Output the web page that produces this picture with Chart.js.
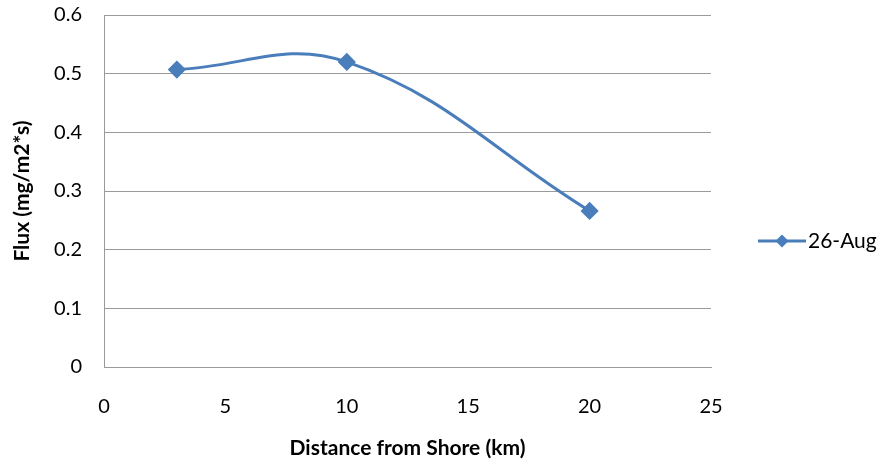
<!DOCTYPE html>
<html><head><meta charset="utf-8">
<script src="https://cdn.jsdelivr.net/npm/chart.js@4/dist/chart.umd.min.js"></script>
<style>html,body{margin:0;padding:0;background:#fff}#wrap{width:884px;height:464px}</style>
</head><body><div id="wrap"><canvas id="c" width="884" height="464"></canvas></div>
<script>
const seriesName = '26-Aug';
const distanceKm = [3, 10, 20];
const fluxValues = [0.507, 0.52, 0.266];
const xTickValues = [0, 5, 10, 15, 20, 25];
const yTickValues = [0, 0.1, 0.2, 0.3, 0.4, 0.5, 0.6];
const xTitle = 'Distance from Shore (km)';
const yTitle = 'Flux (mg/m2*s)';

const BLUE = '#4A7EBB';
const FONT = 'Lato, "Liberation Sans", sans-serif';

const legendPlugin = {
  id: 'customLegend',
  afterDraw(chart) {
    const ctx = chart.ctx;
    const y = 241, x0 = 758, x1 = 806;
    ctx.save();
    ctx.strokeStyle = BLUE; ctx.lineWidth = 3;
    ctx.beginPath(); ctx.moveTo(x0, y); ctx.lineTo(x1, y); ctx.stroke();
    ctx.fillStyle = BLUE;
    const cx = (x0 + x1) / 2, r = 6.5;
    ctx.beginPath(); ctx.moveTo(cx, y - r); ctx.lineTo(cx + r, y); ctx.lineTo(cx, y + r); ctx.lineTo(cx - r, y); ctx.closePath(); ctx.fill();
    ctx.fillStyle = '#000'; ctx.font = '21px ' + FONT; ctx.textBaseline = 'middle'; ctx.textAlign = 'left';
    ctx.fillText(seriesName, 808, y);
    ctx.restore();
  }
};

new Chart(document.getElementById('c'), {
  type: 'scatter',
  data: {
    datasets: [{
      label: seriesName,
      data: distanceKm.map((x, i) => ({x, y: fluxValues[i]})),
      showLine: true,
      borderColor: BLUE,
      backgroundColor: BLUE,
      borderWidth: 3,
      tension: 0.4,
      pointStyle: 'rectRot',
      pointRadius: 7,
      pointHoverRadius: 7
    }]
  },
  options: {
    responsive: false,
    animation: false,
    layout: { padding: { left: 0, right: 173, top: 15, bottom: 0 } },
    plugins: { legend: { display: false }, tooltip: { enabled: false } },
    scales: {
      x: {
        type: 'linear', min: 0, max: 25,
        afterBuildTicks: s => { s.ticks = xTickValues.map(v => ({value: v})); },
        afterFit: s => { s.height = 97; s.paddingLeft = 0; s.paddingRight = 0; },
        grid: { display: false, drawTicks: false },
        border: { display: true, color: '#9a9a9a', width: 1 },
        ticks: { color: '#000', font: { family: FONT, size: 20 }, padding: 28, maxRotation: 0 },
        title: { display: true, text: xTitle, color: '#000', font: { family: FONT, size: 21, weight: 'bold' }, padding: { top: 14, bottom: 3 } }
      },
      y: {
        type: 'linear', min: 0, max: 0.6,
        afterBuildTicks: s => { s.ticks = yTickValues.map(v => ({value: v})); },
        afterFit: s => { s.width = 104; s.paddingTop = 0; s.paddingBottom = 0; },
        grid: { color: '#9a9a9a', drawTicks: false, lineWidth: 1 },
        border: { display: true, color: '#9a9a9a', width: 1 },
        ticks: { color: '#000', font: { family: FONT, size: 20 }, padding: 22,
          callback: v => String(Number(v.toFixed(1))) },
        title: { display: true, text: yTitle, color: '#000', font: { family: FONT, size: 21, weight: 'bold' }, padding: { top: 10, bottom: 10 } }
      }
    }
  },
  plugins: [legendPlugin]
});
</script></body></html>
